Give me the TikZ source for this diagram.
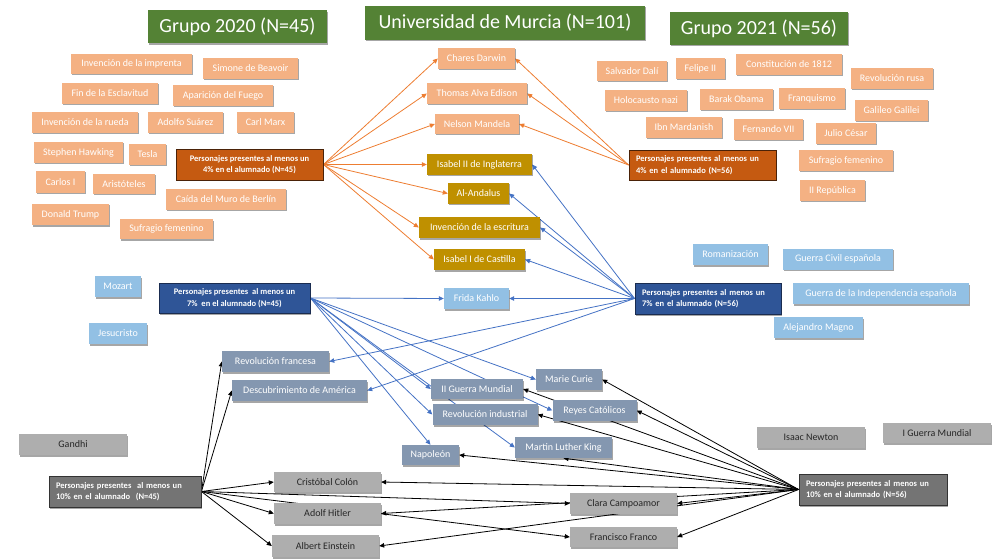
\documentclass[tikz,border=0pt]{standalone}
\usepackage{fontspec}
\setmainfont{Carlito}
\usetikzlibrary{arrows.meta,shadows,backgrounds}

\definecolor{tgreen}{HTML}{548235}
\definecolor{lorange}{HTML}{F4B183}
\definecolor{dorange}{HTML}{C55A11}
\definecolor{dorangeb}{HTML}{4A2208}
\definecolor{gold}{HTML}{BF9000}
\definecolor{lblue}{HTML}{92C0E4}
\definecolor{dblue}{HTML}{2F5597}
\definecolor{dblueb}{HTML}{1A2C50}
\definecolor{slate}{HTML}{8497B0}
\definecolor{lgray}{HTML}{AEAEAE}
\definecolor{dgray}{HTML}{747474}
\definecolor{dgrayb}{HTML}{333333}
\definecolor{gtext}{HTML}{262626}
\definecolor{oline}{HTML}{ED7D31}
\definecolor{bline}{HTML}{4472C4}

\tikzset{
  bx/.style={rectangle, inner sep=0pt, text=white,
    font=\fontsize{10}{12}\selectfont,
    drop shadow={shadow xshift=1.2pt, shadow yshift=-1.5pt, opacity=0.35, fill=black}},
  sz/.style 2 args={minimum width=#1, minimum height=#2},
  ttl/.style={bx, fill=tgreen, font=\fontsize{20}{24}\selectfont},
  lor/.style={bx, fill=lorange},
  gld/.style={bx, fill=gold},
  lbl/.style={bx, fill=lblue},
  slt/.style={bx, fill=slate},
  gry/.style={bx, fill=lgray, text=gtext},
  pbox/.style={bx, line width=0.9pt, font=\fontsize{8.5}{11.5}\selectfont\bfseries},
  pleft/.style={pbox, align=left, inner xsep=7pt},
  pmid/.style={pbox, align=center},
  p4/.style={fill=dorange, draw=dorangeb},
  p7/.style={fill=dblue, draw=dblueb},
  p10/.style={fill=dgray, draw=dgrayb},
  tip/.style={-{Triangle[length=5pt,width=4.5pt]}},
  oarr/.style={tip, draw=oline, line width=0.8pt},
  barr/.style={tip, draw=bline, line width=0.8pt},
  karr/.style={tip, draw=black, line width=0.8pt},
}

\begin{document}
\begin{tikzpicture}[x=1pt,y=-1pt]
\useasboundingbox (0,0) rectangle (994,559);

% titles
\node[ttl, sz={179}{33}] (t2020) at (237.5,27) {Grupo 2020 (N=45)};
\node[ttl, sz={280}{34}] (tum) at (505,23) {Universidad de Murcia (N=101)};
\node[ttl, sz={178}{33}] (t2021) at (759,28.5) {Grupo 2021 (N=56)};

% group 2020, 4%
\node[lor, sz={121}{20}] (imprenta) at (131.5,64) {Invención de la imprenta};
\node[lor, sz={95}{21}] (beauvoir) at (250.5,68.5) {Simone de Beavoir};
\node[lor, sz={96}{21}] (esclavitud) at (110,93.5) {Fin de la Esclavitud};
\node[lor, sz={100}{21}] (fuego) at (223,95.5) {Aparición del Fuego};
\node[lor, sz={106}{21}] (rueda) at (85,122.5) {Invención de la rueda};
\node[lor, sz={75}{21}] (suarez) at (185.5,122.5) {Adolfo Suárez};
\node[lor, sz={57}{21}] (marx) at (265.5,122.5) {Carl Marx};
\node[lor, sz={89}{21}] (hawking) at (78.5,152.5) {Stephen Hawking};
\node[lor, sz={37}{21}] (tesla) at (147.5,154.5) {Tesla};
\node[lor, sz={49}{22}] (carlos) at (60.5,182) {Carlos I};
\node[lor, sz={62}{20}] (aristoteles) at (124,184) {Aristóteles};
\node[lor, sz={120}{21}] (muro) at (226,199.5) {Caída del Muro de Berlín};
\node[lor, sz={77}{21}] (trump) at (70.5,214.5) {Donald Trump};
\node[lor, sz={93}{20}] (sufragioa) at (166.5,229) {Sufragio femenino};
\node[pmid, p4, sz={147}{31}] (pa4) at (249.5,164.5)
  {Personajes presentes al menos un\\4\% en el alumnado (N=45)};

% shared 4%
\node[lor, sz={77}{21}] (darwin) at (476.5,58.5) {Chares Darwin};
\node[lor, sz={100}{21}] (edison) at (477,93.5) {Thomas Alva Edison};
\node[lor, sz={84}{20}] (mandela) at (477,124) {Nelson Mandela};
\node[gld, sz={105}{21}] (isabeldos) at (479.5,164.5) {Isabel II de Inglaterra};
\node[gld, sz={61}{21}] (andalus) at (478.5,193.5) {Al-Andalus};
\node[gld, sz={121}{21}] (escritura) at (479.5,227.5) {Invención de la escritura};
\node[gld, sz={91}{21}] (isabeluno) at (479.5,259.5) {Isabel I de Castilla};

% group 2021, 4%
\node[lor, sz={70}{20}] (dali) at (632,71) {Salvador Dalí};
\node[lor, sz={49}{21}] (felipe) at (700.5,68.5) {Felipe II};
\node[lor, sz={106}{21}] (constitucion) at (789,64.5) {Constitución de 1812};
\node[lor, sz={82}{21}] (rusa) at (892,78.5) {Revolución rusa};
\node[lor, sz={82}{21}] (holocausto) at (646,100.5) {Holocausto nazi};
\node[lor, sz={73}{21}] (obama) at (736.5,99.5) {Barak Obama};
\node[lor, sz={66}{21}] (franquismo) at (812,98.5) {Franquismo};
\node[lor, sz={73}{21}] (galileo) at (891.5,110.5) {Galileo Galilei};
\node[lor, sz={76}{21}] (mardanish) at (684,127.5) {Ibn Mardanish};
\node[lor, sz={69}{21}] (fernando) at (768.5,129.5) {Fernando VII};
\node[lor, sz={60}{21}] (julio) at (846,133.5) {Julio César};
\node[lor, sz={94}{21}] (sufragiob) at (846,160.5) {Sufragio femenino};
\node[lor, sz={65}{21}] (republica) at (832.5,190.5) {II República};
\node[pleft, p4, text width=133pt, minimum height=30] (pb4) at (702.5,165)
  {Personajes presentes al menos un\\4\% en el alumnado (N=56)};

% 7%
\node[lbl, sz={46}{21}] (mozart) at (118,286.5) {Mozart};
\node[lbl, sz={58}{21}] (jesucristo) at (118,333.5) {Jesucristo};
\node[lbl, sz={65}{21}] (frida) at (476.5,298.5) {Frida Kahlo};
\node[lbl, sz={75}{21}] (romanizacion) at (730.5,254.5) {Romanización};
\node[lbl, sz={110}{21}] (guerracivil) at (838,259) {Guerra Civil española};
\node[lbl, sz={176}{21}] (independencia) at (881,293.5) {Guerra de la Independencia española};
\node[lbl, sz={89}{21}] (alejandro) at (818.5,327.5) {Alejandro Magno};
\node[pmid, p7, sz={151}{30}] (pa7) at (234.5,298)
  {Personajes presentes\ \ al menos un\\7\%\ \ en el alumnado (N=45)};
\node[pleft, p7, text width=132pt, minimum height=31] (pb7) at (708,298.5)
  {Personajes presentes al menos un\\7\% en el alumnado (N=56)};

\node[slt, sz={107}{21}] (revfrancesa) at (275.5,361.5) {Revolución francesa};
\node[slt, sz={135}{21}] (descubrimiento) at (299.5,390.5) {Descubrimiento de América};
\node[slt, sz={66}{21}] (curie) at (569,379.5) {Marie Curie};
\node[slt, sz={92}{20}] (iigm) at (477,389) {II Guerra Mundial};
\node[slt, sz={84}{21}] (reyes) at (594.5,410.5) {Reyes Católicos};
\node[slt, sz={105}{21}] (revind) at (485,414.5) {Revolución industrial};
\node[slt, sz={97}{21}] (mlk) at (563.5,447.5) {Martin Luther King};
\node[slt, sz={57}{20}] (napoleon) at (430.5,455) {Napoleón};

% 10%
\node[gry, sz={108}{21}] (gandhi) at (73,444.5) {Gandhi};
\node[gry, sz={108}{21}] (newton) at (811,437.5) {Isaac Newton};
\node[gry, sz={108}{20}] (igm) at (937,433) {I Guerra Mundial};
\node[gry, sz={107}{20}] (colon) at (327.5,482) {Cristóbal Colón};
\node[gry, sz={107}{21}] (hitler) at (327.5,513.5) {Adolf Hitler};
\node[gry, sz={107}{22}] (einstein) at (325.5,546) {Albert Einstein};
\node[gry, sz={107}{21}] (clara) at (623.5,503.5) {Clara Campoamor};
\node[gry, sz={107}{20}] (franco) at (623.5,537) {Francisco Franco};
\node[pleft, p10, text width=138pt, minimum height=31] (pa10) at (125,491.5)
  {Personajes presentes\ \ al menos un\\10\% en el alumnado\ \ (N=45)};
\node[pleft, p10, text width=134pt, minimum height=31] (pb10) at (873,489.5)
  {Personajes presentes al menos un\\10\% en el alumnado (N=56)};

\begin{scope}[on background layer]
  % 4% links
  \foreach \t in {darwin,edison,mandela,isabeldos,andalus,escritura,isabeluno}
    \draw[oarr] (pa4.east) -- (\t.west);
  \foreach \t in {darwin,edison,mandela}
    \draw[oarr] (pb4.west) -- (\t.east);
  % 7% links
  \foreach \t in {isabeldos,andalus,escritura,isabeluno,frida,revfrancesa,descubrimiento}
    \draw[barr] (pb7.west) -- (\t.east);
  \foreach \t in {frida,curie,reyes,iigm,revind,mlk}
    \draw[barr] (pa7.east) -- (\t.west);
  \draw[barr] (pa7.east) -- (napoleon.north);
  % 10% links
  \foreach \t in {revfrancesa,descubrimiento,colon,hitler,einstein,clara,franco}
    \draw[karr] (pa10.east) -- (\t.west);
  \foreach \t in {curie,reyes,iigm,revind,napoleon,colon,clara,hitler,einstein,franco}
    \draw[karr] (pb10.west) -- (\t.east);
  \draw[karr] (pb10.west) -- (mlk.south);
\end{scope}
\end{tikzpicture}
\end{document}
